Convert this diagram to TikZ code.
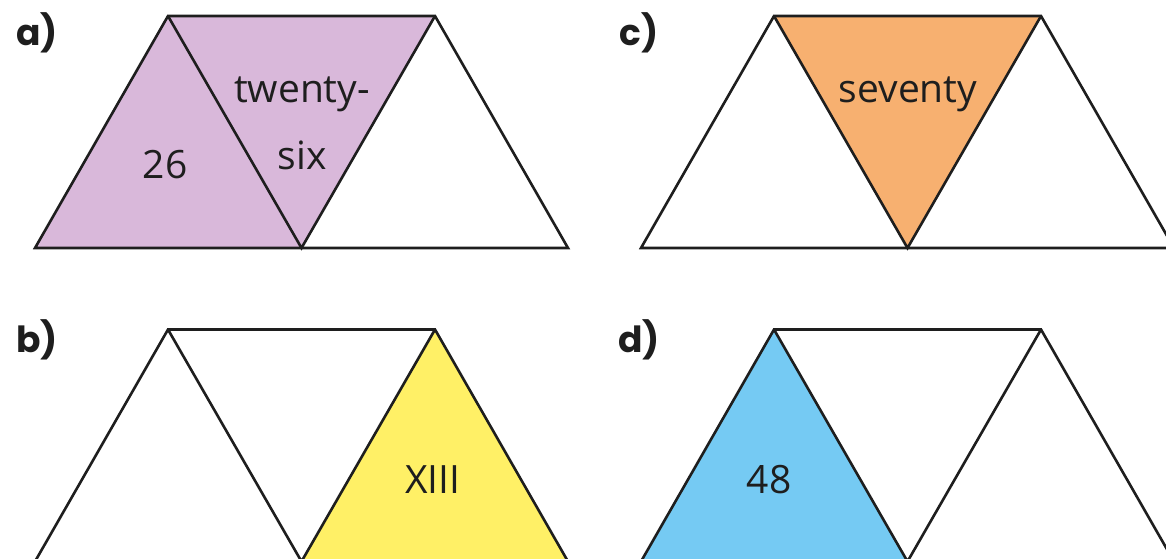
\documentclass[tikz,border=0pt]{standalone}
\usepackage{fontspec}
\setmainfont{Open Sans}
\newfontfamily\tagfont{Poppins}
\usetikzlibrary{positioning}
\definecolor{ink}{HTML}{1E1E1E}
\definecolor{lilac}{HTML}{D9B8DA}
\definecolor{peach}{HTML}{F7B070}
\definecolor{lemon}{HTML}{FFF066}
\definecolor{sky}{HTML}{75CAF3}

\begin{document}
\begin{tikzpicture}[x=1pt,y=-1pt,
  edge/.style={draw=ink,line width=2.6pt,line join=miter},
  tag/.style={font=\tagfont\bfseries\fontsize{36}{40}\selectfont,text=ink},
  word/.style={font=\fontsize{39}{46}\selectfont,text=ink,inner sep=0pt}]
  \useasboundingbox (0,0) rectangle (1166,558);
  \clip (0,0) rectangle (1166,558);
  % one strip of three triangles per part
  \foreach \ox/\oy/\cl/\cm/\cr in {35/248/lilac/lilac/white,641/248/white/peach/white,35/561.5/white/white/lemon,641/561.5/sky/white/white} {
    \coordinate (A) at (\ox,\oy);
    \coordinate (B) at (\ox+133,\oy-232);
    \coordinate (C) at (\ox+400,\oy-232);
    \coordinate (D) at (\ox+533,\oy);
    \coordinate (M) at (\ox+266.5,\oy);
    \fill[\cl] (A) -- (B) -- (M) -- cycle;
    \fill[\cm] (B) -- (C) -- (M) -- cycle;
    \fill[\cr] (M) -- (C) -- (D) -- cycle;
    \draw[edge] (A) -- (B) -- (C) -- (D) -- cycle;
    \draw[edge] (B) -- (M) -- (C);
  }
  \node[tag] (ta) at (37,33) {a)};
  \node[tag] (tb) at (37,340) {b)};
  \node[tag] (tc) at (639,33) {c)};
  \node[tag] (td) at (639,340) {d)};
  \node[word] (n26) at (165,165) {26};
  \node[word] (tw) at (302,94) {twenty-};
  \node[word] (sx) at (302,155) {six};
  \node[word] (sv) at (908,94) {seventy};
  \node[word] (x13) at (433,480) {XIII};
  \node[word] (n48) at (769,480) {48};
\end{tikzpicture}
\end{document}
